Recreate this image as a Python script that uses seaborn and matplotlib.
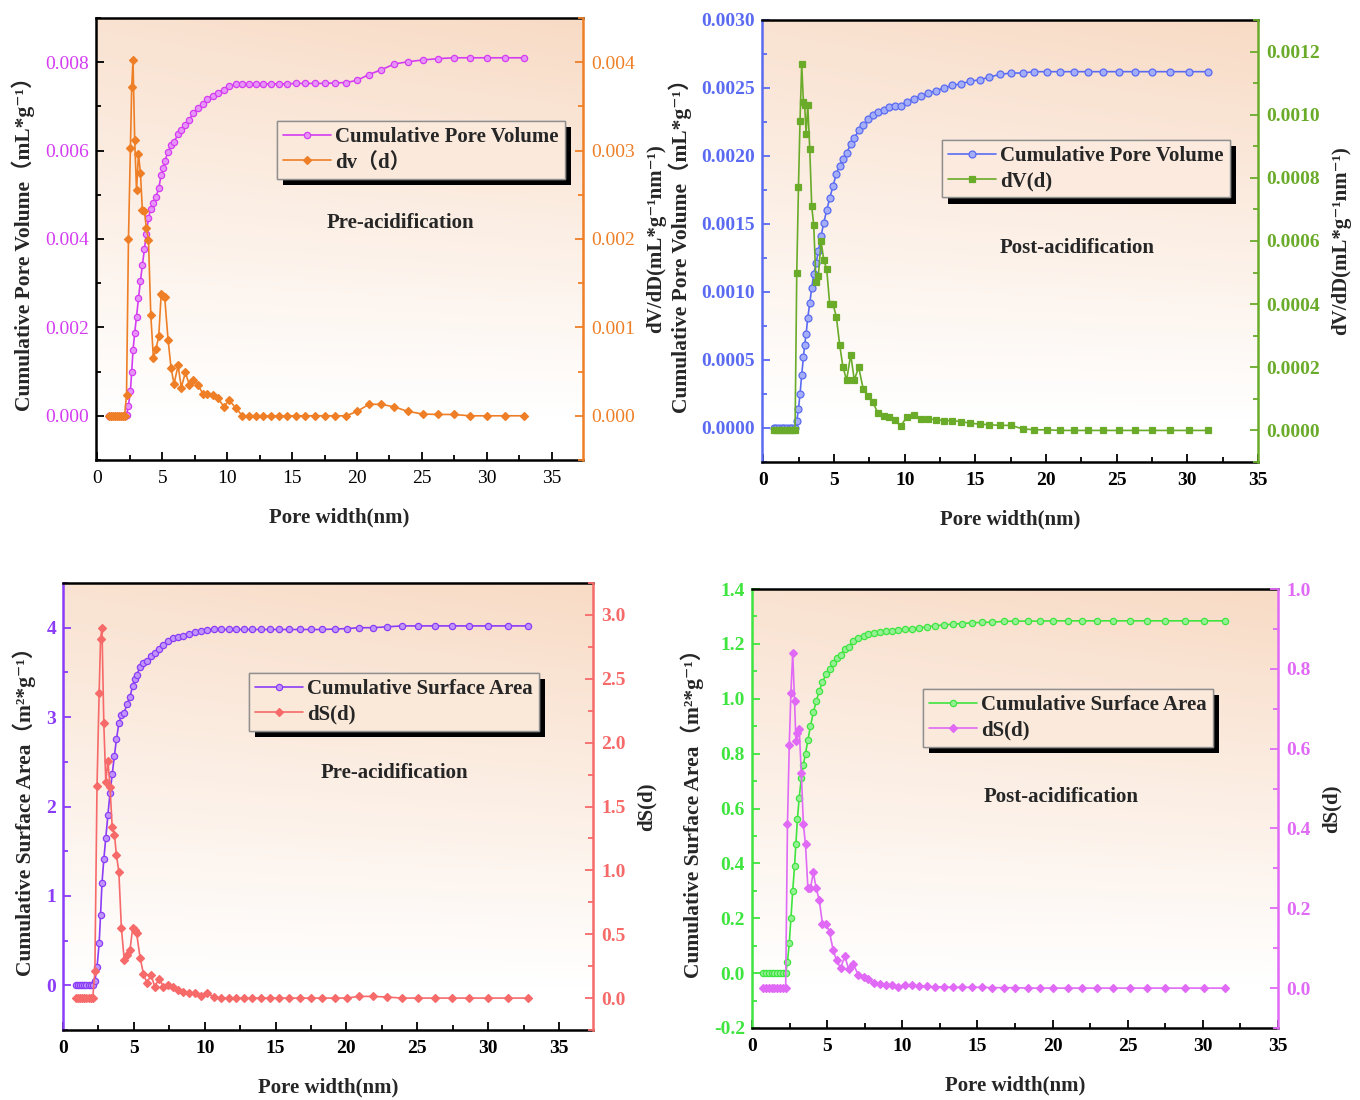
import numpy as np
import matplotlib
matplotlib.use("Agg")
import matplotlib.pyplot as plt
import matplotlib.patheffects as pe
from matplotlib.colors import to_rgb
from matplotlib.ticker import MultipleLocator, FormatStrFormatter
import seaborn as sns

sns.set_theme(style="ticks")
plt.rcParams["font.family"] = ["Liberation Serif", "DejaVu Serif", "Noto Sans CJK SC"]
plt.rcParams["axes.unicode_minus"] = False

# ---- pre-acidification sample ----
pore_width_pre = [0.90, 1.05, 1.20, 1.35, 1.50, 1.65, 1.80, 1.95, 2.10,
                  2.25, 2.40, 2.55, 2.65, 2.75, 2.88, 3.02, 3.17, 3.32, 3.47,
                  3.63, 3.77, 3.94, 4.12, 4.32, 4.53, 4.73, 4.92, 5.06, 5.19,
                  5.45, 5.68, 5.91, 6.22, 6.47, 6.78, 7.09, 7.40, 7.76, 8.12,
                  8.47, 8.88, 9.29, 9.76, 10.14, 10.65,
                  11.17, 11.68, 12.24, 12.78, 13.35, 13.99, 14.63, 15.27, 15.96, 16.73,
                  17.50, 18.29, 19.17, 20.01, 20.91, 21.88, 22.88, 23.91, 25.06, 26.24,
                  27.45, 28.68, 30.01, 31.40, 32.83]

# mL/g, values in units of 1e-3
cum_volume_pre = np.array([0, 0, 0, 0, 0, 0, 0, 0, 0,
                           0.02, 0.23, 0.57, 1.00, 1.48, 1.88, 2.24, 2.66, 3.04, 3.41,
                           3.77, 4.12, 4.47, 4.69, 4.82, 4.96, 5.15, 5.45, 5.60, 5.76,
                           5.97, 6.12, 6.20, 6.37, 6.46, 6.59, 6.70, 6.85, 6.97, 7.06,
                           7.16, 7.23, 7.31, 7.38, 7.46, 7.50,
                           7.50, 7.50, 7.50, 7.51, 7.51, 7.51, 7.51, 7.52, 7.52, 7.52,
                           7.52, 7.53, 7.54, 7.59, 7.72, 7.83, 7.96, 8.01, 8.05, 8.08,
                           8.10, 8.10, 8.10, 8.10, 8.10]) * 1e-3

dv_pre = np.array([0, 0, 0, 0, 0, 0, 0, 0, 0,
                   0.24, 2.00, 3.03, 3.72, 4.02, 3.12, 2.55, 2.96, 2.75, 2.33,
                   2.32, 2.13, 1.99, 1.14, 0.65, 0.76, 0.90, 1.38, 1.36, 1.34,
                   0.86, 0.54, 0.36, 0.57, 0.32, 0.49, 0.35, 0.40, 0.35, 0.25,
                   0.25, 0.24, 0.20, 0.10, 0.18, 0.09,
                   0, 0, 0, 0, 0, 0, 0, 0, 0, 0,
                   0, 0, 0, 0.05, 0.13, 0.13, 0.10, 0.05, 0.02, 0.015,
                   0.015, 0, 0, 0, 0]) * 1e-3

cum_area_pre = [0, 0, 0, 0, 0, 0, 0, 0, 0,
                0.05, 0.20, 0.47, 0.79, 1.14, 1.41, 1.65, 1.91, 2.15, 2.36,
                2.57, 2.75, 2.93, 3.02, 3.05, 3.15, 3.23, 3.35, 3.43, 3.47,
                3.56, 3.60, 3.63, 3.68, 3.72, 3.76, 3.81, 3.85, 3.88, 3.90,
                3.91, 3.93, 3.95, 3.96, 3.97, 3.98,
                3.98, 3.98, 3.98, 3.98, 3.98, 3.98, 3.98, 3.98, 3.98, 3.98,
                3.98, 3.98, 3.985, 3.99, 4.00, 4.00, 4.01, 4.02, 4.02, 4.02,
                4.02, 4.02, 4.02, 4.02, 4.02]

ds_pre = [0, 0, 0, 0, 0, 0, 0, 0, 0,
          0.21, 1.66, 2.39, 2.81, 2.90, 2.15, 1.69, 1.86, 1.65, 1.34,
          1.28, 1.12, 0.99, 0.55, 0.30, 0.34, 0.38, 0.55, 0.53, 0.51,
          0.31, 0.19, 0.12, 0.18, 0.09, 0.15, 0.09, 0.10, 0.09, 0.06,
          0.05, 0.04, 0.04, 0.02, 0.04, 0.01,
          0, 0, 0, 0, 0, 0, 0, 0, 0, 0,
          0, 0, 0, 0, 0.013, 0.013, 0.008, 0, 0, 0,
          0, 0, 0, 0, 0]

# ---- post-acidification sample ----
pore_width_post = [0.73, 0.92, 1.11, 1.30, 1.48, 1.67, 1.86, 2.05, 2.24,
                   2.36, 2.48, 2.59, 2.71, 2.83, 2.92, 3.02, 3.14, 3.28, 3.42,
                   3.56, 3.72, 3.89, 4.08, 4.27, 4.48, 4.69, 4.93, 5.16, 5.40,
                   5.63, 5.89, 6.18, 6.43, 6.74, 7.07, 7.43, 7.73, 8.11, 8.51,
                   8.91, 9.31, 9.71, 10.16, 10.63, 11.13, 11.64, 12.19, 12.78, 13.37,
                   13.98, 14.62, 15.30, 15.98, 16.74, 17.52, 18.34, 19.17,
                   20.06, 21.00, 21.95, 22.96, 24.00, 25.15, 26.31, 27.51, 28.78, 30.10, 31.49]

cum_volume_post = np.array([0, 0, 0, 0, 0, 0, 0, 0, 0,
                            0.05, 0.14, 0.25, 0.39, 0.52, 0.61, 0.69, 0.81, 0.92, 1.03,
                            1.13, 1.21, 1.30, 1.41, 1.51, 1.60, 1.69, 1.78, 1.87, 1.93,
                            1.98, 2.02, 2.09, 2.13, 2.19, 2.23, 2.27, 2.30, 2.32, 2.34,
                            2.36, 2.37, 2.37, 2.40, 2.42, 2.44, 2.46, 2.48, 2.50, 2.52,
                            2.53, 2.55, 2.56, 2.58, 2.60, 2.61, 2.61, 2.62,
                            2.62, 2.62, 2.62, 2.62, 2.62, 2.62, 2.62, 2.62, 2.62, 2.62, 2.62]) * 1e-3

dv_post = np.array([0, 0, 0, 0, 0, 0, 0, 0, 0,
                    0.50, 0.77, 0.98, 1.16, 1.04, 1.03, 0.94, 1.03, 0.89, 0.71,
                    0.65, 0.47, 0.49, 0.60, 0.54, 0.51, 0.40, 0.40, 0.36, 0.27,
                    0.20, 0.16, 0.24, 0.16, 0.20, 0.13, 0.11, 0.09, 0.055, 0.046,
                    0.041, 0.034, 0.013, 0.044, 0.050, 0.037, 0.037, 0.034, 0.031, 0.031,
                    0.028, 0.023, 0.020, 0.018, 0.016, 0.016, 0.005, 0.002,
                    0.002, 0, 0, 0, 0, 0, 0, 0, 0, 0, 0]) * 1e-3

cum_area_post = [0, 0, 0, 0, 0, 0, 0, 0, 0,
                 0.04, 0.11, 0.20, 0.30, 0.39, 0.47, 0.56, 0.64, 0.71, 0.76,
                 0.80, 0.85, 0.90, 0.95, 0.99, 1.03, 1.06, 1.09, 1.11, 1.13,
                 1.15, 1.16, 1.18, 1.19, 1.21, 1.22, 1.23, 1.235, 1.24, 1.244,
                 1.246, 1.248, 1.249, 1.253, 1.256, 1.258, 1.262, 1.266, 1.269, 1.272,
                 1.274, 1.277, 1.278, 1.279, 1.282, 1.283, 1.283, 1.283,
                 1.284, 1.284, 1.284, 1.284, 1.284, 1.284, 1.284, 1.284, 1.284, 1.284, 1.284]

ds_post = [0, 0, 0, 0, 0, 0, 0, 0, 0,
           0.41, 0.61, 0.74, 0.84, 0.72, 0.62, 0.64, 0.65, 0.54, 0.41,
           0.36, 0.25, 0.25, 0.29, 0.25, 0.22, 0.16, 0.16, 0.14, 0.095,
           0.07, 0.05, 0.08, 0.047, 0.06, 0.033, 0.027, 0.022, 0.012, 0.010,
           0.008, 0.007, 0.002, 0.008, 0.008, 0.004, 0.004, 0.003, 0.003, 0.002,
           0.002, 0.002, 0.002, 0.001, 0.001, 0.001, 0, 0,
           0, 0, 0, 0, 0, 0, 0, 0, 0, 0, 0]

# ---- text ----
x_label = "Pore width(nm)"
vol_label = "Cumulative Pore Volume（mL*g⁻¹）"
dvdd_label = "dV/dD(mL*g⁻¹nm⁻¹)"
area_label = "Cumulative Surface Area（m²*g⁻¹）"
ds_label = "dS(d)"

FIG_W, FIG_H = 1360, 1100
PEACH = np.array([248, 219, 197]) / 255


def px_rect(left, top, right, bottom):
    return [left / FIG_W, 1 - bottom / FIG_H, (right - left) / FIG_W, (bottom - top) / FIG_H]


def bg_color(xf, yf):
    t = np.clip((np.asarray(yf) - 0.1) / 0.9, 0, 1) * (0.8 + 0.2 * np.asarray(xf))
    return 1 - np.multiply.outer(t, 1 - PEACH)


def lighten(color, amount=0.45):
    c = np.array(to_rgb(color))
    return tuple(c + (1 - c) * amount)


def add_series(ax, x, y, color, marker, size, label):
    face = lighten(color) if marker == "o" else color
    sns.lineplot(x=x, y=y, ax=ax, color=color, marker=marker, markersize=size,
                 markerfacecolor=face, markeredgecolor=color, markeredgewidth=0.9,
                 linewidth=1.2, estimator=None, sort=False, legend=False)
    line = ax.lines[-1]
    line.set_label(label)
    return line


def draw_panel(fig, rect, x, left, right, xlim, note, note_pos, legend_pos, weight):
    ax = fig.add_axes(rect)
    ax2 = ax.twinx()

    # soft peach background gradient
    yy, xx = np.mgrid[1:0:300j, 0:1:300j]
    ax.imshow(bg_color(xx, yy), extent=[0, 1, 0, 1], transform=ax.transAxes,
              aspect="auto", zorder=0, interpolation="bilinear")

    h1 = add_series(ax, x, left["y"], left["color"], left["marker"], left["size"], left["name"])
    h2 = add_series(ax2, x, right["y"], right["color"], right["marker"], right["size"], right["name"])

    ax.set_xlim(*xlim)
    ax.set_ylim(*left["ylim"])
    ax2.set_ylim(*right["ylim"])
    ax.xaxis.set_major_locator(MultipleLocator(5))
    ax.xaxis.set_minor_locator(MultipleLocator(2.5))
    ax.yaxis.set_major_locator(MultipleLocator(left["major"]))
    ax.yaxis.set_minor_locator(MultipleLocator(left["major"] / 2))
    ax.yaxis.set_major_formatter(FormatStrFormatter(left["fmt"]))
    ax2.yaxis.set_major_locator(MultipleLocator(right["major"]))
    ax2.yaxis.set_minor_locator(MultipleLocator(right["major"] / 2))
    ax2.yaxis.set_major_formatter(FormatStrFormatter(right["fmt"]))

    # spines
    for s in ["top", "bottom"]:
        ax.spines[s].set_color("black")
        ax.spines[s].set_linewidth(1.8)
        ax2.spines[s].set_visible(False)
    ax.spines["left"].set_color(left["spine"])
    ax.spines["left"].set_linewidth(1.8)
    ax.spines["right"].set_visible(False)
    ax2.spines["left"].set_visible(False)
    ax2.spines["right"].set_color(right["color"])
    ax2.spines["right"].set_linewidth(1.8)

    # ticks
    ax.tick_params(axis="x", which="both", direction="in", top=False, bottom=True,
                   color="black", labelcolor="black", labelsize=14, pad=7, width=1.3)
    ax.tick_params(axis="y", which="both", direction="in", left=True, right=False,
                   color=left["spine"], labelcolor=left["color"], labelsize=14, pad=5, width=1.3)
    ax2.tick_params(axis="y", which="both", direction="in", right=True, left=False,
                    color=right["color"], labelcolor=right["color"], labelsize=14, pad=6, width=1.3)
    for a in (ax, ax2):
        a.tick_params(which="major", length=6)
        a.tick_params(which="minor", length=3.5)
    for lbl in ax.get_xticklabels() + ax.get_yticklabels() + ax2.get_yticklabels():
        lbl.set_fontweight(weight)

    ax.set_xlabel(x_label, fontsize=15, fontweight="bold", labelpad=15)
    ax.set_ylabel(left["label"], fontsize=15.5, fontweight="bold", labelpad=7)
    ax2.set_ylabel(right["label"], fontsize=15, fontweight="bold", labelpad=8)
    ax2.set_xlabel("")

    leg_face = tuple(bg_color(legend_pos[0] + 0.3, legend_pos[1] - 0.07))
    leg = ax2.legend(handles=[h1, h2], loc="upper left", bbox_to_anchor=legend_pos,
                     bbox_transform=ax.transAxes, prop={"weight": "bold", "size": 15},
                     fancybox=False, framealpha=1, facecolor=leg_face, edgecolor="#8f8f8f",
                     borderpad=0.3, labelspacing=0.25, handlelength=2.3,
                     handletextpad=0.2, borderaxespad=0)
    leg.get_frame().set_linewidth(1.0)
    leg.get_frame().set_path_effects([
        pe.withSimplePatchShadow(offset=(4.5, -4.5), shadow_rgbFace="black", alpha=1.0),
        pe.Normal()])

    ax2.text(note_pos[0], note_pos[1], note, transform=ax2.transAxes, ha="center",
             va="center", fontsize=15, fontweight="bold")
    return ax, ax2


fig = plt.figure(figsize=(FIG_W / 100, FIG_H / 100), dpi=100)

# top-left: pore volume, pre-acidification
draw_panel(fig, px_rect(96, 18, 583, 460), pore_width_pre,
           dict(y=cum_volume_pre, color="#D43CF2", spine="black", marker="o", size=4.5,
                name="Cumulative Pore Volume", label=vol_label,
                ylim=(-0.001, 0.009), major=0.002, fmt="%.3f"),
           dict(y=dv_pre, color="#EE7F27", marker="D", size=4,
                name="dv（d）", label=dvdd_label,
                ylim=(-0.0005, 0.0045), major=0.001, fmt="%.3f"),
           (-0.1, 37.4), "Pre-acidification", (0.626, 0.536), (0.372, 0.767), "normal")

# top-right: pore volume, post-acidification
draw_panel(fig, px_rect(762, 20, 1258, 462), pore_width_post,
           dict(y=cum_volume_post, color="#5A6BF2", spine="#5A6BF2", marker="o", size=5,
                name="Cumulative Pore Volume", label=vol_label,
                ylim=(-0.00025, 0.003), major=0.0005, fmt="%.4f"),
           dict(y=dv_post, color="#6AAB2A", marker="s", size=4.5,
                name="dV(d)", label=dvdd_label,
                ylim=(-0.0001, 0.0013), major=0.0002, fmt="%.4f"),
           (-0.1, 35), "Post-acidification", (0.635, 0.484), (0.363, 0.729), "bold")

# bottom-left: surface area, pre-acidification
draw_panel(fig, px_rect(63, 583, 593, 1030), pore_width_pre,
           dict(y=cum_area_pre, color="#8B3CF7", spine="#8B3CF7", marker="o", size=4.5,
                name="Cumulative Surface Area", label=area_label,
                ylim=(-0.5, 4.5), major=1, fmt="%.0f"),
           dict(y=ds_pre, color="#F66A6A", marker="D", size=4,
                name="dS(d)", label=ds_label,
                ylim=(-0.25, 3.25), major=0.5, fmt="%.1f"),
           (0, 37.4), "Pre-acidification", (0.625, 0.575), (0.351, 0.799), "bold")

# bottom-right: surface area, post-acidification
draw_panel(fig, px_rect(752, 589, 1278, 1028), pore_width_post,
           dict(y=cum_area_post, color="#3FE43F", spine="#3FE43F", marker="o", size=4.5,
                name="Cumulative Surface Area", label=area_label,
                ylim=(-0.2, 1.4), major=0.2, fmt="%.1f"),
           dict(y=ds_post, color="#E06AF5", marker="D", size=4,
                name="dS(d)", label=ds_label,
                ylim=(-0.1, 1.0), major=0.2, fmt="%.1f"),
           (0, 35), "Post-acidification", (0.587, 0.526), (0.325, 0.772), "bold")

fig.savefig("out.png", dpi=100)
